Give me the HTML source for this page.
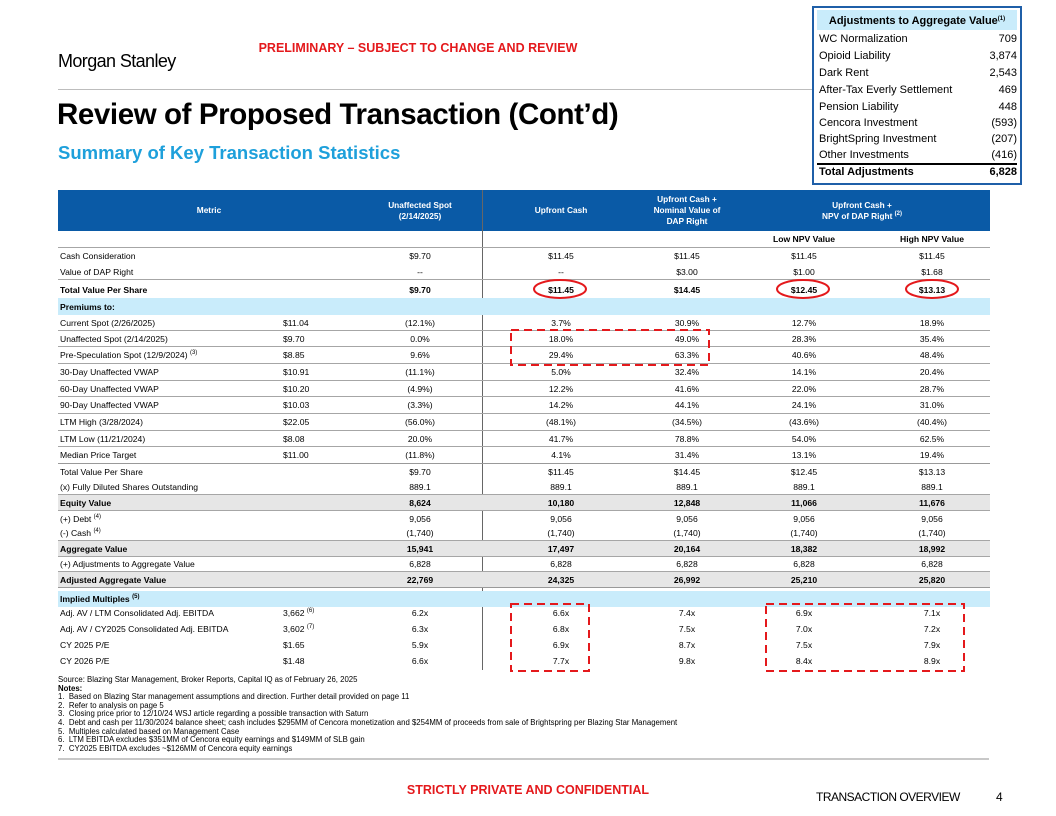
<!DOCTYPE html>
<html><head><meta charset="utf-8">
<style>
*{margin:0;padding:0;box-sizing:border-box}
body{width:1056px;height:816px;background:#fff;position:relative;overflow:hidden;font-family:"Liberation Sans",Arial,sans-serif;color:#000}
.a{position:absolute;white-space:nowrap}
.row{position:absolute;left:58px;width:932px;display:flex;align-items:center;font-size:8.6px}
.row div{flex:none}
.l{width:225px;padding-left:2px}
.c2{width:75px}
.c3{width:124px;text-align:center}
.c4{width:158px;text-align:center}
.c5{width:94px;text-align:center}
.c6{width:140px;text-align:center}
.c7{width:116px;text-align:center}
.b{font-weight:bold}
.g{background:#e6e6e6}
.bl{border-bottom:1px solid #a6a6a6}
sup{font-size:6px;vertical-align:4px;line-height:0}
.adj{position:absolute;left:819px;width:198px;display:flex;justify-content:space-between;font-size:11px;line-height:13px}
.fn{font-size:7.8px;line-height:8.6px}
</style></head><body>
<div class="a" style="left:58px;top:51px;font-size:18px;letter-spacing:-0.6px">Morgan Stanley</div>
<div class="a b" style="left:230px;top:41px;font-size:12.5px;color:#e4191c;width:376px;text-align:center">PRELIMINARY – SUBJECT TO CHANGE AND REVIEW</div>
<div class="a" style="left:58px;top:89px;width:760px;height:1px;background:#bdbdbd"></div>
<div class="a b" style="left:57px;top:98px;font-size:29.5px;letter-spacing:-0.4px">Review of Proposed Transaction (Cont’d)</div>
<div class="a b" style="left:58px;top:142px;font-size:18.5px;color:#1ea0db">Summary of Key Transaction Statistics</div>

<!-- adjustments box -->
<div class="a" style="left:812px;top:6px;width:210px;height:179px;border:2px solid #1f5fa8;background:#fff"></div>
<div class="a b" style="left:817px;top:10px;width:200px;height:20px;background:#c9ecfb;font-size:11px;text-align:center;line-height:22px">Adjustments to Aggregate Value<sup>(1)</sup></div>
<div class="adj" style="top:33px"><span>WC Normalization</span><span>709</span></div>
<div class="adj" style="top:50px"><span>Opioid Liability</span><span>3,874</span></div>
<div class="adj" style="top:67px"><span>Dark Rent</span><span>2,543</span></div>
<div class="adj" style="top:84px"><span>After-Tax Everly Settlement</span><span>469</span></div>
<div class="adj" style="top:101px"><span>Pension Liability</span><span>448</span></div>
<div class="adj" style="top:117px"><span>Cencora Investment</span><span>(593)</span></div>
<div class="adj" style="top:133px"><span>BrightSpring Investment</span><span>(207)</span></div>
<div class="adj" style="top:149px"><span>Other Investments</span><span>(416)</span></div>
<div class="a" style="left:817px;top:163px;width:200px;height:1.5px;background:#000"></div>
<div class="adj b" style="top:166px"><span>Total Adjustments</span><span>6,828</span></div>

<!-- header band -->
<div class="a" style="left:58px;top:190px;width:932px;height:41px;background:#0a5aa6"></div>
<div class="row b" style="top:190px;height:41px;color:#fff;font-size:8.3px;line-height:11px">
<div class="l" style="width:300px;text-align:center">Metric</div>
<div class="c3">Unaffected Spot<br>(2/14/2025)</div>
<div class="c4">Upfront Cash</div>
<div class="c5">Upfront Cash +<br>Nominal Value of<br>DAP Right</div>
<div style="width:256px;text-align:center">Upfront Cash +<br>NPV of DAP Right <sup>(2)</sup></div>
</div>
<div class="a" style="left:482px;top:190px;width:1px;height:480px;background:#666"></div>

<div class="row b bl" style="top:231px;height:17px"><div class="l"></div><div class="c2"></div><div class="c3"></div><div class="c4"></div><div class="c5"></div><div class="c6">Low NPV Value</div><div class="c7">High NPV Value</div></div>
<div class="row" style="top:248px;height:16px"><div class="l">Cash Consideration</div><div class="c2"></div><div class="c3">$9.70</div><div class="c4">$11.45</div><div class="c5">$11.45</div><div class="c6">$11.45</div><div class="c7">$11.45</div></div>
<div class="row bl" style="top:264px;height:16px"><div class="l">Value of DAP Right</div><div class="c2"></div><div class="c3">--</div><div class="c4">--</div><div class="c5">$3.00</div><div class="c6">$1.00</div><div class="c7">$1.68</div></div>
<div class="row b" style="top:281px;height:17px"><div class="l">Total Value Per Share</div><div class="c2"></div><div class="c3">$9.70</div><div class="c4">$11.45</div><div class="c5">$14.45</div><div class="c6">$12.45</div><div class="c7">$13.13</div></div>
<div class="row b" style="top:298px;height:17px;background:#c9ecfb"><div class="l">Premiums to:</div></div>

<div class="row bl" style="top:315px;height:16px"><div class="l">Current Spot (2/26/2025)</div><div class="c2">$11.04</div><div class="c3">(12.1%)</div><div class="c4">3.7%</div><div class="c5">30.9%</div><div class="c6">12.7%</div><div class="c7">18.9%</div></div>
<div class="row bl" style="top:331px;height:16px"><div class="l">Unaffected Spot (2/14/2025)</div><div class="c2">$9.70</div><div class="c3">0.0%</div><div class="c4">18.0%</div><div class="c5">49.0%</div><div class="c6">28.3%</div><div class="c7">35.4%</div></div>
<div class="row bl" style="top:347px;height:17px"><div class="l">Pre-Speculation Spot (12/9/2024) <sup>(3)</sup></div><div class="c2">$8.85</div><div class="c3">9.6%</div><div class="c4">29.4%</div><div class="c5">63.3%</div><div class="c6">40.6%</div><div class="c7">48.4%</div></div>
<div class="row bl" style="top:364px;height:17px"><div class="l">30-Day Unaffected VWAP</div><div class="c2">$10.91</div><div class="c3">(11.1%)</div><div class="c4">5.0%</div><div class="c5">32.4%</div><div class="c6">14.1%</div><div class="c7">20.4%</div></div>
<div class="row bl" style="top:381px;height:16px"><div class="l">60-Day Unaffected VWAP</div><div class="c2">$10.20</div><div class="c3">(4.9%)</div><div class="c4">12.2%</div><div class="c5">41.6%</div><div class="c6">22.0%</div><div class="c7">28.7%</div></div>
<div class="row bl" style="top:397px;height:17px"><div class="l">90-Day Unaffected VWAP</div><div class="c2">$10.03</div><div class="c3">(3.3%)</div><div class="c4">14.2%</div><div class="c5">44.1%</div><div class="c6">24.1%</div><div class="c7">31.0%</div></div>
<div class="row bl" style="top:414px;height:17px"><div class="l">LTM High (3/28/2024)</div><div class="c2">$22.05</div><div class="c3">(56.0%)</div><div class="c4">(48.1%)</div><div class="c5">(34.5%)</div><div class="c6">(43.6%)</div><div class="c7">(40.4%)</div></div>
<div class="row bl" style="top:431px;height:16px"><div class="l">LTM Low (11/21/2024)</div><div class="c2">$8.08</div><div class="c3">20.0%</div><div class="c4">41.7%</div><div class="c5">78.8%</div><div class="c6">54.0%</div><div class="c7">62.5%</div></div>
<div class="row bl" style="top:447px;height:17px;border-bottom:1.5px solid #999"><div class="l">Median Price Target</div><div class="c2">$11.00</div><div class="c3">(11.8%)</div><div class="c4">4.1%</div><div class="c5">31.4%</div><div class="c6">13.1%</div><div class="c7">19.4%</div></div>

<div class="row" style="top:464px;height:16px"><div class="l">Total Value Per Share</div><div class="c2"></div><div class="c3">$9.70</div><div class="c4">$11.45</div><div class="c5">$14.45</div><div class="c6">$12.45</div><div class="c7">$13.13</div></div>
<div class="row bl" style="top:480px;height:15px"><div class="l">(x) Fully Diluted Shares Outstanding</div><div class="c2"></div><div class="c3">889.1</div><div class="c4">889.1</div><div class="c5">889.1</div><div class="c6">889.1</div><div class="c7">889.1</div></div>
<div class="row b g bl" style="top:495px;height:16px"><div class="l">Equity Value</div><div class="c2"></div><div class="c3">8,624</div><div class="c4">10,180</div><div class="c5">12,848</div><div class="c6">11,066</div><div class="c7">11,676</div></div>
<div class="row" style="top:511px;height:15px"><div class="l">(+) Debt <sup>(4)</sup></div><div class="c2"></div><div class="c3">9,056</div><div class="c4">9,056</div><div class="c5">9,056</div><div class="c6">9,056</div><div class="c7">9,056</div></div>
<div class="row bl" style="top:526px;height:15px"><div class="l">(-) Cash <sup>(4)</sup></div><div class="c2"></div><div class="c3">(1,740)</div><div class="c4">(1,740)</div><div class="c5">(1,740)</div><div class="c6">(1,740)</div><div class="c7">(1,740)</div></div>
<div class="row b g bl" style="top:541px;height:16px"><div class="l">Aggregate Value</div><div class="c2"></div><div class="c3">15,941</div><div class="c4">17,497</div><div class="c5">20,164</div><div class="c6">18,382</div><div class="c7">18,992</div></div>
<div class="row bl" style="top:557px;height:15px"><div class="l">(+) Adjustments to Aggregate Value</div><div class="c2"></div><div class="c3">6,828</div><div class="c4">6,828</div><div class="c5">6,828</div><div class="c6">6,828</div><div class="c7">6,828</div></div>
<div class="row b g bl" style="top:572px;height:16px;border-bottom:1.5px solid #999"><div class="l">Adjusted Aggregate Value</div><div class="c2"></div><div class="c3">22,769</div><div class="c4">24,325</div><div class="c5">26,992</div><div class="c6">25,210</div><div class="c7">25,820</div></div>
<div class="row b" style="top:591px;height:16px;background:#c9ecfb"><div class="l">Implied Multiples <sup>(5)</sup></div></div>
<div class="row" style="top:605px;height:16px"><div class="l">Adj. AV / LTM Consolidated Adj. EBITDA</div><div class="c2">3,662 <sup>(6)</sup></div><div class="c3">6.2x</div><div class="c4">6.6x</div><div class="c5">7.4x</div><div class="c6">6.9x</div><div class="c7">7.1x</div></div>
<div class="row" style="top:621px;height:16px"><div class="l">Adj. AV / CY2025 Consolidated Adj. EBITDA</div><div class="c2">3,602 <sup>(7)</sup></div><div class="c3">6.3x</div><div class="c4">6.8x</div><div class="c5">7.5x</div><div class="c6">7.0x</div><div class="c7">7.2x</div></div>
<div class="row" style="top:637px;height:16px"><div class="l">CY 2025 P/E</div><div class="c2">$1.65</div><div class="c3">5.9x</div><div class="c4">6.9x</div><div class="c5">8.7x</div><div class="c6">7.5x</div><div class="c7">7.9x</div></div>
<div class="row" style="top:653px;height:16px"><div class="l">CY 2026 P/E</div><div class="c2">$1.48</div><div class="c3">6.6x</div><div class="c4">7.7x</div><div class="c5">9.8x</div><div class="c6">8.4x</div><div class="c7">8.9x</div></div>

<!-- annotations -->
<svg class="a" style="left:0;top:0" width="1056" height="816">
<g fill="none" stroke="#e4191c" stroke-width="2">
<ellipse cx="560" cy="289" rx="26" ry="9"/>
<ellipse cx="803" cy="289" rx="26" ry="9"/>
<ellipse cx="932" cy="289" rx="26" ry="9"/>
<g stroke-dasharray="8,5">
<rect x="511" y="330" width="198" height="35"/>
<rect x="511" y="604" width="78" height="67"/>
<rect x="766" y="604" width="198" height="67"/>
</g></g></svg>

<div class="a fn" style="left:58px;top:676px">Source: Blazing Star Management, Broker Reports, Capital IQ as of February 26, 2025<br><b>Notes:</b><br>1.&nbsp; Based on Blazing Star management assumptions and direction. Further detail provided on page 11<br>2.&nbsp; Refer to analysis on page 5<br>3.&nbsp; Closing price prior to 12/10/24 WSJ article regarding a possible transaction with Saturn<br>4.&nbsp; Debt and cash per 11/30/2024 balance sheet; cash includes $295MM of Cencora monetization and $254MM of proceeds from sale of Brightspring per Blazing Star Management<br>5.&nbsp; Multiples calculated based on Management Case<br>6.&nbsp; LTM EBITDA excludes $351MM of Cencora equity earnings and $149MM of SLB gain<br>7.&nbsp; CY2025 EBITDA excludes ~$126MM of Cencora equity earnings</div>
<div class="a" style="left:58px;top:758px;width:931px;height:2px;background:#c8c8c8"></div>
<div class="a" style="left:816px;top:790px;font-size:12px;letter-spacing:-0.5px">TRANSACTION OVERVIEW</div>
<div class="a" style="left:996px;top:790px;font-size:12px">4</div>
<div class="a b" style="left:378px;top:783px;width:300px;text-align:center;font-size:12.5px;color:#e4191c">STRICTLY PRIVATE AND CONFIDENTIAL</div>
</body></html>
